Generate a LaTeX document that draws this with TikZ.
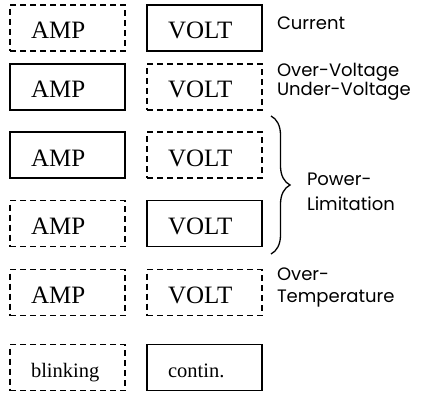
\documentclass[tikz,border=0pt]{standalone}
\usepackage{fontspec}
\setmainfont{Liberation Serif}
\newfontfamily\notefont{Poppins}
\usetikzlibrary{positioning, decorations.pathreplacing}

\begin{document}
\begin{tikzpicture}[
  x=1pt, y=-1pt,
  led/.style = {draw, line width=1.5pt, text width=73pt, align=left,
                inner xsep=21pt, inner ysep=0pt, minimum height=46pt,
                text height=22pt, text depth=0pt,
                font=\fontsize{25}{25}\selectfont},
  solidled/.style = {led},
  dashled/.style = {led, dash pattern=on 6pt off 4pt},
  small/.style = {font=\fontsize{20.5}{20.5}\selectfont, text height=20pt},
  note/.style = {anchor=west, inner sep=0pt, align=left,
                 font=\notefont\fontsize{18}{18}\selectfont},
  every node/.style = {outer sep=0pt}
]
\useasboundingbox (0,0) rectangle (422,393);

% Column positions
\def\colA{67.5}
\def\colB{204.5}

% Current
\node[dashled]  (amp1)  at (\colA,28) {AMP};
\node[solidled] (volt1) at (\colB,28) {VOLT};
\node[note] (current) at (277,23) {Current};

% Over-/Under-Voltage
\node[solidled] (amp2)  at (\colA,87) {AMP};
\node[dashled]  (volt2) at (\colB,87) {VOLT};
\node[note] (voltage) at (277,82) {Over-Voltage\\Under-Voltage};

% Power limitation
\node[solidled] (amp3)  at (\colA,155) {AMP};
\node[dashled]  (volt3) at (\colB,155) {VOLT};
\node[solidled] (volt4) at (\colB,223.5) {VOLT};
\node[dashled]  (amp4)  at (\colA,223.5) {AMP};
\coordinate (bracetop) at (271,116);
\coordinate (bracebot) at (271,254);
\draw[line width=1.3pt, decorate,
      decoration={brace, amplitude=19pt}] (bracetop) -- (bracebot);
\node[note, font=\notefont\fontsize{18}{25}\selectfont] (power) at (307,192)
  {Power-\\Limitation};

% Over-Temperature
\node[dashled] (amp5)  at (\colA,292.5) {AMP};
\node[dashled] (volt5) at (\colB,292.5) {VOLT};
\node[note, font=\notefont\fontsize{18}{22}\selectfont] (temp) at (277,287)
  {Over-\\Temperature};

% Legend
\node[dashled, small]  (blink)  at (\colA,367.5) {blinking};
\node[solidled, small] (contin) at (\colB,367.5) {contin.};

\end{tikzpicture}
\end{document}
